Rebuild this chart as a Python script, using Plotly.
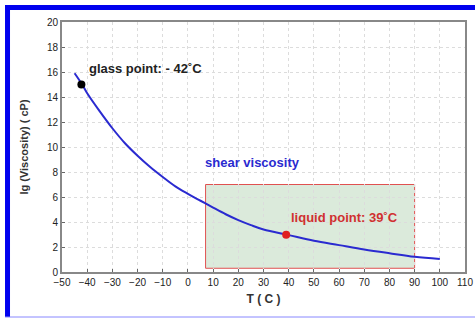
import plotly.graph_objects as go

temps = [-45, -42, -40, -35, -30, -25, -20, -15, -10, -5, 0, 5, 10, 15, 20, 25, 30, 40, 50, 60, 70, 80, 90, 100]
lg_visc = [15.9, 15.0, 14.3, 12.85, 11.5, 10.3, 9.3, 8.4, 7.6, 6.85, 6.25, 5.7, 5.15, 4.62, 4.15, 3.75, 3.4, 2.95, 2.5, 2.15, 1.8, 1.5, 1.22, 1.05]

glass_T, glass_v = [-42.3], [15.0]
liquid_T, liquid_v = [39], [2.98]

rect_x = [7, 90]
rect_y = [0.3, 7]

x_ticks = list(range(-50, 111, 10))
y_ticks = list(range(0, 21, 2))

fig = go.Figure()
fig.add_shape(type="rect", x0=rect_x[0], x1=rect_x[1], y0=rect_y[0], y1=rect_y[1],
              fillcolor="#dbeadb", line=dict(color="#e05050", width=1), layer="below")
fig.add_trace(go.Scatter(x=temps, y=lg_visc, mode="lines", line=dict(color="#2a2ad0", width=2, shape="spline"),
                         hoverinfo="skip"))
fig.add_trace(go.Scatter(x=glass_T, y=glass_v, mode="markers", marker=dict(color="black", size=8)))
fig.add_trace(go.Scatter(x=liquid_T, y=liquid_v, mode="markers", marker=dict(color="#e02020", size=8)))

fnt = "Liberation Sans, Arial, sans-serif"
fig.add_annotation(x=-40, y=16.3, text="<b>glass point: - 42˚C</b>", showarrow=False, xanchor="left",
                   font=dict(family=fnt, size=13, color="#222222"))
fig.add_annotation(x=6, y=8.8, text="<b>shear viscosity</b>", showarrow=False, xanchor="left",
                   font=dict(family=fnt, size=13, color="#2a2ad0"))
fig.add_annotation(x=40, y=4.4, text="<b>liquid point: 39˚C</b>", showarrow=False, xanchor="left",
                   font=dict(family=fnt, size=13, color="#d03030"))

# blue frame
fig.add_shape(type="rect", xref="paper", yref="paper", x0=-0.1414, x1=1.05, y0=1.048, y1=1.068,
              fillcolor="#0000ee", line=dict(width=0))
fig.add_shape(type="rect", xref="paper", yref="paper", x0=-0.1414, x1=-0.129, y0=-0.18, y1=1.068,
              fillcolor="#0000ee", line=dict(width=0))
fig.add_shape(type="line", xref="paper", yref="paper", x0=-0.1414, x1=1.05, y0=-0.18, y1=-0.18,
              line=dict(color="#8888ff", width=1))

axis_common = dict(showgrid=True, gridcolor="#dcdcdc", griddash="dot", gridwidth=1,
                   showline=True, linecolor="#888888", linewidth=2, mirror=True,
                   ticks="inside", ticklen=3, tickcolor="#666666", zeroline=False, automargin=False,
                   tickfont=dict(family=fnt, size=10, color="#222222"))
fig.update_xaxes(range=[-50, 110], tickvals=x_ticks, **axis_common,
                 title=dict(text="<b>T ( C )</b>", font=dict(family=fnt, size=12, color="#333333"), standoff=8))
fig.update_yaxes(range=[0, 20], tickvals=y_ticks, **axis_common,
                 title=dict(text="<b>lg (Viscosity) ( cP)</b>", font=dict(family=fnt, size=11, color="#333333"), standoff=16))

fig.update_layout(width=475, height=318, margin=dict(l=62, r=10, t=22, b=46),
                  plot_bgcolor="white", paper_bgcolor="white", showlegend=False)
fig.write_html("out.html", config={"displayModeBar": False},
               post_script="document.body.style.margin='0px';")
